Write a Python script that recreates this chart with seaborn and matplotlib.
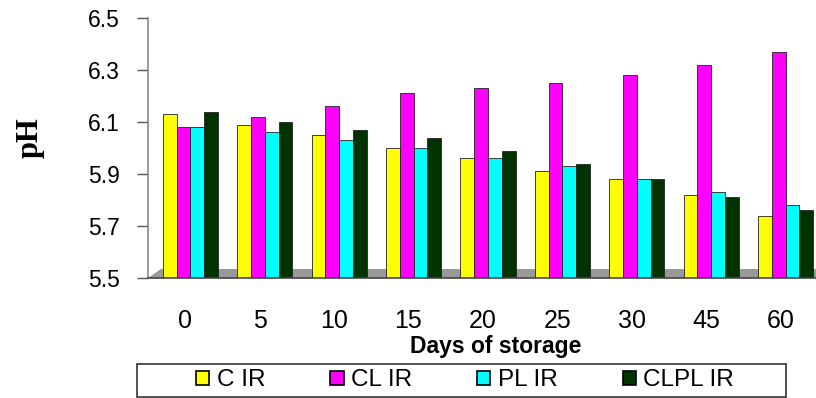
import numpy as np
import pandas as pd
import matplotlib
matplotlib.use("Agg")
import matplotlib.pyplot as plt
from matplotlib.patches import Polygon, Rectangle
import seaborn as sns

days = ["0", "5", "10", "15", "20", "25", "30", "45", "60"]
series = ["C IR", "CL IR", "PL IR", "CLPL IR"]
c_ir = [6.13, 6.09, 6.05, 6.00, 5.96, 5.91, 5.88, 5.82, 5.74]
cl_ir = [6.08, 6.12, 6.16, 6.21, 6.23, 6.25, 6.28, 6.32, 6.37]
pl_ir = [6.08, 6.06, 6.03, 6.00, 5.96, 5.93, 5.88, 5.83, 5.78]
clpl_ir = [6.14, 6.10, 6.07, 6.04, 5.99, 5.94, 5.88, 5.81, 5.76]
colors = ["#FFFF00", "#FF00FF", "#00FFFF", "#003300"]
yticks = [5.5, 5.7, 5.9, 6.1, 6.3, 6.5]

df = pd.DataFrame({
    "Days": days * 4,
    "Series": sum([[s] * len(days) for s in series], []),
    "pH": c_ir + cl_ir + pl_ir + clpl_ir,
})

sns.set_theme(style="white")
plt.rcParams["font.family"] = ["Liberation Sans", "DejaVu Sans"]
plt.rcParams["text.color"] = "black"
plt.rcParams["axes.labelcolor"] = "black"
plt.rcParams["xtick.labelcolor"] = "black"
plt.rcParams["ytick.labelcolor"] = "black"

W, H = 816, 398
fig = plt.figure(figsize=(W / 100, H / 100), dpi=100)
ax = fig.add_axes([148 / W, 1 - 278 / H, 669.6 / W, 260 / H])

# floor (3D base look)
floor = Polygon([(0, 0), (1.05, 0), (1.05, 0.033), (0.02, 0.033)], closed=True,
                transform=ax.transAxes, facecolor="#999999", edgecolor="none", zorder=0.5)
ax.add_patch(floor)

sns.barplot(data=df, x="Days", y="pH", hue="Series", hue_order=series,
            palette=colors, width=0.74, gap=0, edgecolor="#222222", linewidth=0.6,
            saturation=1, ax=ax, zorder=2)

ax.set_ylim(5.5, 6.5)
ax.set_xlim(-0.57, 8.43)
ax.set_yticks(yticks)
ax.set_yticklabels([f"{v:.1f}" for v in yticks], fontsize=16.5)
ax.set_xticks(np.arange(len(days)) - 0.07)
ax.set_xticklabels(days, fontsize=18)
ax.set_xticks(np.arange(len(days)) - 0.57, minor=True)
ax.tick_params(axis="x", which="major", length=0, pad=22)
ax.tick_params(axis="x", which="minor", length=8, width=1.2, color="#333333", direction="out")
ax.tick_params(axis="y", length=8, width=1, color="#555555", direction="out", pad=12, left=True)

for s in ["top", "right"]:
    ax.spines[s].set_visible(False)
ax.spines["left"].set_color("#8a8a8a")
ax.spines["left"].set_linewidth(1.2)
ax.spines["bottom"].set_color("#444444")
ax.spines["bottom"].set_linewidth(1.2)

ax.set_xlabel("Days of storage", fontsize=16.5, fontweight="bold")
ax.xaxis.set_label_coords((496 - 148) / 669.6, (278 - 335) / 260)
ax.set_ylabel("pH", fontsize=22, fontweight="bold", family=["Liberation Serif", "DejaVu Serif"])
ax.yaxis.set_label_coords((45 - 148) / 669.6, (278 - 138) / 260)

handles, labels = ax.get_legend_handles_labels()
ax.get_legend().remove()
leg = fig.legend(handles, labels, loc="center", ncol=4, mode="expand",
                 bbox_to_anchor=(196 / W, 1 - 397 / H, (734 - 196) / W, 33 / H),
                 frameon=False, fontsize=17.5, handlelength=0.55, handleheight=0.55,
                 handletextpad=0.3, borderpad=0, borderaxespad=0)
for h in leg.legend_handles:
    h.set_edgecolor("black")
    h.set_linewidth(1.2)
fig.patches.append(Rectangle((137 / W, 1 - 397 / H), (786 - 137) / W, 33 / H,
                             transform=fig.transFigure, fill=False,
                             edgecolor="#333333", linewidth=1.2))

fig.savefig("out.png", dpi=100)
